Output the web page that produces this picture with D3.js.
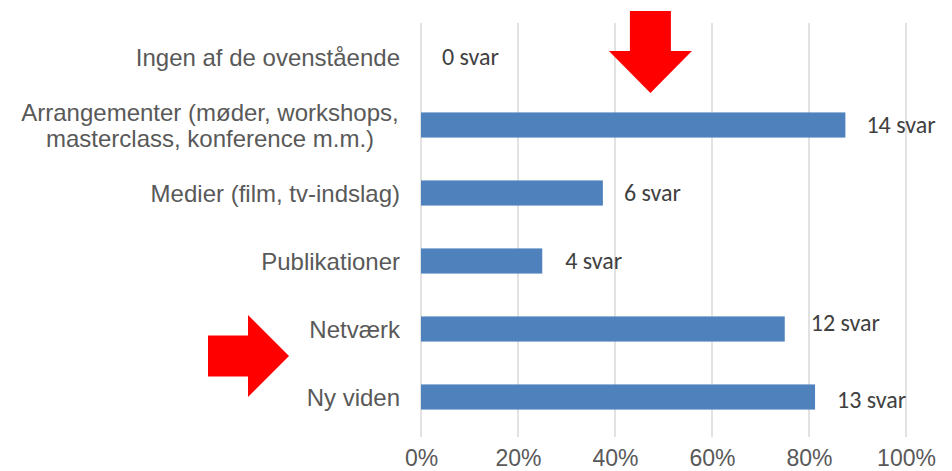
<!DOCTYPE html>
<html><head><meta charset="utf-8">
<script src="https://cdn.jsdelivr.net/npm/d3@7"></script>
<style>body{margin:0;background:#fff}svg{display:block}</style>
</head><body>
<svg id="c" width="952" height="471"></svg>
<script>
const categories = [
  ["Ingen af de ovenstående"],
  ["Arrangementer (møder, workshops,", "masterclass, konference m.m."+")"],
  ["Medier (film, tv-indslag)"],
  ["Publikationer"],
  ["Netværk"],
  ["Ny viden"]
];
const percentValues = [0, 87.5, 37.5, 25, 75, 81.25];
const valueLabels = ["0 svar", "14 svar", "6 svar", "4 svar", "12 svar", "13 svar"];
const labelNudgeX = [21, 21, 21, 23, 26, 22];
const labelNudgeY = [0, 0, 0, 0, -6, 3];
const tickValues = [0, 20, 40, 60, 80, 100];

const svg = d3.select("#c");
const x = d3.scaleLinear().domain([0, 100]).range([421, 906]);
const y = d3.scaleBand().domain(d3.range(categories.length)).range([23, 431]).paddingInner(0.63).paddingOuter(0.315);

// gridlines
svg.append("g").selectAll("line").data(tickValues).join("line")
  .attr("x1", d => x(d)).attr("x2", d => x(d))
  .attr("y1", 23).attr("y2", 437)
  .attr("stroke", "#d9d9d9").attr("stroke-width", 1.5);

// x axis tick labels
const xAxis = d3.axisBottom(x).tickValues(tickValues).tickFormat(d => d + "%").tickSize(0).tickPadding(0);
const gx = svg.append("g").attr("transform", "translate(0,466)").call(xAxis);
gx.select(".domain").remove();
gx.selectAll("text").attr("font-family", "Liberation Sans, Arial, sans-serif").attr("font-size", 23).attr("fill", "#595959").attr("dy", 0);

// bars
svg.append("g").selectAll("rect").data(percentValues).join("rect")
  .attr("x", x(0)).attr("y", (d, i) => y(i))
  .attr("width", d => x(d) - x(0)).attr("height", y.bandwidth())
  .attr("fill", "#4f81bd");

// category labels
const cl = svg.append("g").selectAll("text").data(categories).join("text")
  .attr("font-family", "Liberation Sans, Arial, sans-serif").attr("font-size", 24).attr("fill", "#595959")
  .attr("text-anchor", d => d.length > 1 ? "middle" : "end")
  .attr("x", d => d.length > 1 ? 210 : 400)
  .attr("y", (d, i) => y(i) + y.bandwidth() / 2 + 1);
cl.each(function(d) {
  const t = d3.select(this);
  const n = d.length;
  d.forEach((line, j) => {
    t.append("tspan").attr("x", t.attr("x"))
      .attr("dy", j === 0 ? ((-(n - 1) * 1.08 / 2) + 0.35) + "em" : "1.08em")
      .text(line);
  });
});

// value labels
svg.append("g").selectAll("text").data(valueLabels).join("text")
  .attr("font-family", "Carlito, Calibri, 'Open Sans', sans-serif").attr("font-size", 24).attr("fill", "#404040")
  .attr("x", (d, i) => x(percentValues[i]) + labelNudgeX[i])
  .attr("y", (d, i) => y(i) + y.bandwidth() / 2 + labelNudgeY[i])
  .attr("dy", "0.35em")
  .text(d => d);

// red arrows (annotations)
const downCx = x(47.3);
const downTop = 11;
svg.append("path")
  .attr("d", `M${downCx - 20.5},${downTop} L${downCx + 20.5},${downTop} L${downCx + 20.5},${downTop + 40} L${downCx + 41.5},${downTop + 40} L${downCx},${downTop + 82} L${downCx - 41.5},${downTop + 40} L${downCx - 20.5},${downTop + 40} Z`)
  .attr("fill", "#ff0000");

const rightTip = x(0) - 132;
const rightCy = (y(4) + y(5) + y.bandwidth()) / 2 - 7;
svg.append("path")
  .attr("d", `M${rightTip - 81},${rightCy - 20.5} L${rightTip - 41},${rightCy - 20.5} L${rightTip - 41},${rightCy - 41} L${rightTip},${rightCy} L${rightTip - 41},${rightCy + 41} L${rightTip - 41},${rightCy + 20.5} L${rightTip - 81},${rightCy + 20.5} Z`)
  .attr("fill", "#ff0000");
</script>
</body></html>
